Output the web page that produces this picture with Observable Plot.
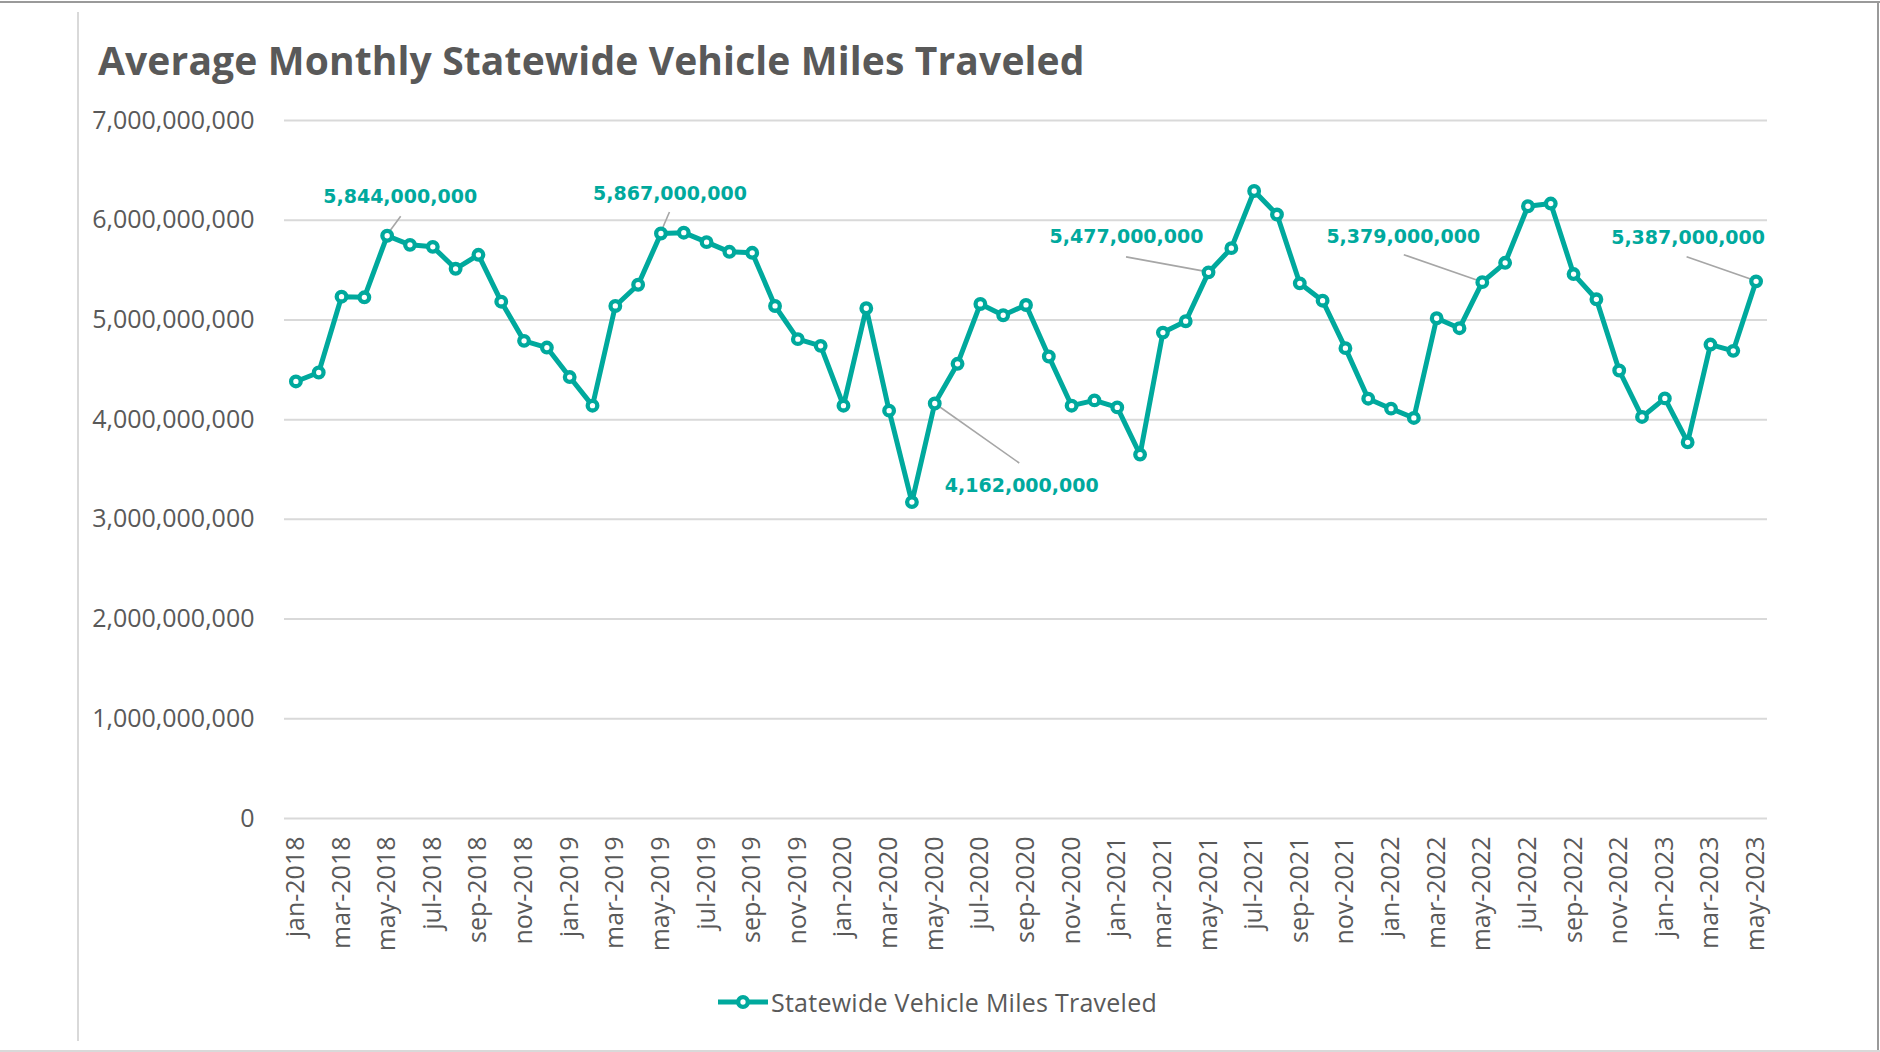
<!DOCTYPE html>
<html>
<head>
<meta charset="utf-8">
<script src="https://cdn.jsdelivr.net/npm/d3@7"></script>
<script src="https://cdn.jsdelivr.net/npm/@observablehq/plot@0.6"></script>
<style>
  html, body { margin: 0; padding: 0; background: #fff; }
  #wrap { position: relative; width: 1880px; height: 1052px; background: #fff; overflow: hidden; }
  #chart { position: absolute; left: 0; top: 0; }
  #title { position: absolute; left: 98px; top: 40px; font-family: "Open Sans", Roboto, sans-serif; font-weight: 700; font-size: 39px; line-height: 39px; letter-spacing: 0.14px; color: #595959; white-space: nowrap; }
  #legend { position: absolute; left: 718px; top: 988px; height: 28px; display: flex; align-items: center; }
  #legend span { font-family: "Open Sans", sans-serif; font-size: 25px; letter-spacing: 0.25px; color: #595959; margin-left: 3px; white-space: nowrap; }
  .frame { position: absolute; }
</style>
</head>
<body>
<div id="wrap">
  <div class="frame" style="left:0;top:1px;width:1880px;height:2px;background:#9a9a9a"></div>
  <div class="frame" style="left:1877px;top:1px;width:2px;height:1051px;background:#9a9a9a"></div>
  <div class="frame" style="left:77px;top:12px;width:2px;height:1029px;background:#d9d9d9"></div>
  <div class="frame" style="left:0;top:1050px;width:1880px;height:2px;background:#d9d9d9"></div>
  <div id="chart"></div>
  <div id="title">Average Monthly Statewide Vehicle Miles Traveled</div>
  <div id="legend">
    <svg width="50" height="28"><line x1="0" x2="50" y1="14" y2="14" stroke="#00a99d" stroke-width="5"></line><circle cx="25" cy="14" r="4.8" fill="#fff" stroke="#00a99d" stroke-width="4.3"></circle></svg>
    <span>Statewide Vehicle Miles Traveled</span>
  </div>
</div>
<script>
const months = [
  "jan-2018","feb-2018","mar-2018","apr-2018","may-2018","jun-2018","jul-2018","aug-2018","sep-2018","oct-2018","nov-2018","dec-2018",
  "jan-2019","feb-2019","mar-2019","apr-2019","may-2019","jun-2019","jul-2019","aug-2019","sep-2019","oct-2019","nov-2019","dec-2019",
  "jan-2020","feb-2020","mar-2020","apr-2020","may-2020","jun-2020","jul-2020","aug-2020","sep-2020","oct-2020","nov-2020","dec-2020",
  "jan-2021","feb-2021","mar-2021","apr-2021","may-2021","jun-2021","jul-2021","aug-2021","sep-2021","oct-2021","nov-2021","dec-2021",
  "jan-2022","feb-2022","mar-2022","apr-2022","may-2022","jun-2022","jul-2022","aug-2022","sep-2022","oct-2022","nov-2022","dec-2022",
  "jan-2023","feb-2023","mar-2023","apr-2023","may-2023"
];

const vmt = [
  4383000000, 4473000000, 5233000000, 5227000000, 5844000000, 5753000000, 5733000000, 5513000000, 5653000000, 5183000000, 4790000000, 4723000000,
  4427000000, 4140000000, 5140000000, 5353000000, 5867000000, 5875000000, 5780000000, 5683000000, 5673000000, 5140000000, 4807000000, 4740000000,
  4140000000, 5117000000, 4090000000, 3173000000, 4162000000, 4560000000, 5160000000, 5047000000, 5150000000, 4633000000, 4140000000, 4193000000,
  4123000000, 3650000000, 4873000000, 4987000000, 5477000000, 5720000000, 6293000000, 6057000000, 5367000000, 5193000000, 4717000000, 4210000000,
  4110000000, 4017000000, 5017000000, 4917000000, 5379000000, 5573000000, 6140000000, 6167000000, 5460000000, 5207000000, 4493000000, 4027000000,
  4213000000, 3773000000, 4753000000, 4690000000, 5387000000
];

const yTicks = [0, 1000000000, 2000000000, 3000000000, 4000000000, 5000000000, 6000000000, 7000000000];
const xTickLabels = months.filter((m, i) => i % 2 === 0);
const labeledMonths = ["may-2018", "may-2019", "may-2020", "may-2021", "may-2022", "may-2023"];

// layout of the data labels (pixel offsets from the point): label centre and leader end
const labelLayout = [
  {dx: 13, dy: -39, lx: 14, ly: -19},
  {dx: 9, dy: -40, lx: 9, ly: -21},
  {dx: 87, dy: 82, lx: 85, ly: 60},
  {dx: -82, dy: -35, lx: -82, ly: -15},
  {dx: -79, dy: -45, lx: -78, ly: -27},
  {dx: -68, dy: -43, lx: -69, ly: -24}
];

const teal = "#00a99d";
const fmt = d3.format(",");
const data = months.map((m, i) => ({month: m, value: vmt[i]}));
const annos = labeledMonths.map((m, i) => ({month: m, value: vmt[months.indexOf(m)], ...labelLayout[i]}));

function leaders(index, scales) {
  const g = d3.create("svg:g");
  for (const a of annos) {
    const px = scales.x(a.month);
    const py = scales.y(a.value);
    g.append("line")
      .attr("x1", px).attr("y1", py)
      .attr("x2", px + a.lx).attr("y2", py + a.ly)
      .attr("stroke", "#a6a6a6").attr("stroke-width", 1.6);
  }
  return g.node();
}

const chart = Plot.plot({
  width: 1880,
  height: 1052,
  marginTop: 120,
  marginBottom: 234,
  marginLeft: 284,
  marginRight: 113,
  style: {fontFamily: "'Open Sans', sans-serif", fontSize: "25px", color: "#595959", background: "transparent", overflow: "visible"},
  x: {type: "point", domain: months, padding: 0.5, label: null},
  y: {domain: [0, 7000000000], label: null},
  marks: [
    Plot.ruleY(yTicks, {stroke: "#d9d9d9", strokeWidth: 2}),
    Plot.axisY({ticks: yTicks, tickFormat: fmt, tickSize: 0, tickPadding: 30, fontSize: 25, fill: "#595959"}),
    Plot.axisX({ticks: xTickLabels, tickRotate: -90, tickSize: 0, tickPadding: 18, fontSize: 25, fill: "#595959"}),
    Plot.line(data, {x: "month", y: "value", stroke: teal, strokeWidth: 5, strokeLinejoin: "round"}),
    leaders,
    Plot.dot(data, {x: "month", y: "value", r: 4.8, fill: "#fff", stroke: teal, strokeWidth: 4.3}),
    ...annos.map(a => Plot.text([a], {
      x: "month", y: "value", text: d => fmt(d.value), dx: a.dx, dy: a.dy,
      fill: teal, fontWeight: "bold", fontSize: 19, fontFamily: "'DejaVu Sans', sans-serif"
    }))
  ]
});
document.getElementById("chart").append(chart);
</script>
</body>
</html>
